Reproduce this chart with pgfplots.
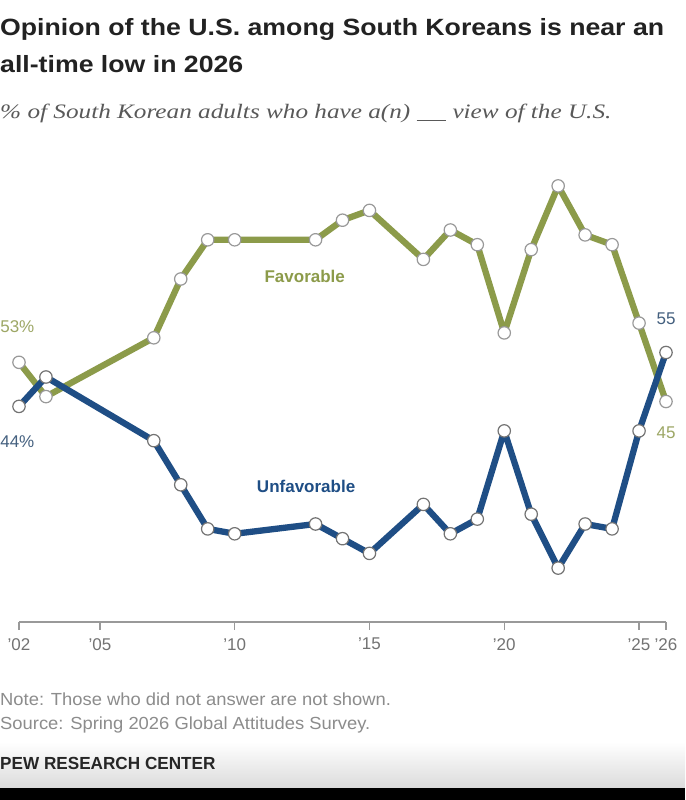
\documentclass[border=0pt]{standalone}
\usepackage{pgfplots}
\pgfplotsset{compat=1.18}
\usepackage{fontspec}
\setmainfont{Liberation Sans}
\newfontfamily\subfont{Liberation Serif}
\definecolor{fav}{HTML}{8C9B4A}
\definecolor{favtxt}{HTML}{9DA765}
\definecolor{unfav}{HTML}{1F4E85}
\definecolor{unfavtxt}{HTML}{44607F}
\definecolor{titlec}{HTML}{222222}

\begin{document}
\begin{tikzpicture}
\path[use as bounding box] (0pt,0pt) rectangle (685pt,800pt);
\fill[white] (0pt,0pt) rectangle (685pt,800pt);
\shade[top color=white, bottom color=black!14] (0pt,12pt) rectangle (685pt,58pt);
\fill[black] (0pt,0pt) rectangle (685pt,12pt);

\node[anchor=base west, inner sep=0, text=titlec] at (0pt,764pt)
  {\scalebox{1.135}[1]{\fontsize{23.5}{26}\selectfont\bfseries Opinion of the U.S. among South Koreans is near an}};
\node[anchor=base west, inner sep=0, text=titlec] at (0pt,727pt)
  {\scalebox{1.135}[1]{\fontsize{23.5}{26}\selectfont\bfseries all-time low in 2026}};
\node[anchor=base west, inner sep=0, text=black!65] at (0pt,681pt)
  {\scalebox{1.23}[1]{\subfont\itshape\fontsize{20.5}{22}\selectfont \% of South Korean adults who have a(n) \rule[-1.5pt]{24pt}{0.8pt} view of the U.S.}};

\node[anchor=base west, inner sep=0, text=black!45] at (0pt,94pt)
  {\scalebox{1.05}[1]{\fontsize{17.5}{19}\selectfont Note: Those who did not answer are not shown.}};
\node[anchor=base west, inner sep=0, text=black!45] at (0pt,70pt)
  {\scalebox{1.05}[1]{\fontsize{17.5}{19}\selectfont Source: Spring 2026 Global Attitudes Survey.}};
\node[anchor=base west, inner sep=0, text=black!85] at (0pt,30pt)
  {\scalebox{0.98}[1]{\fontsize{17.5}{19}\selectfont\bfseries PEW RESEARCH CENTER}};

\begin{axis}[
  at={(19pt,178pt)}, anchor=south west,
  scale only axis, width=647pt, height=441pt,
  xmin=2002, xmax=2026, ymin=0, ymax=90,
  axis x line=bottom, axis y line=none,
  clip=false,
  xtick={2002,2005,2010,2015,2020,2025,2026},
  xticklabels={\mbox{'02},\mbox{'05},\mbox{'10},\mbox{'15},\mbox{'20},\mbox{'25},\mbox{'26}},
  tick align=outside, major tick length=8pt,
  x axis line style={-, draw=black!40, line width=1.3pt},
  xtick style={draw=black!40, line width=1.3pt},
  xticklabel style={font=\fontsize{17}{19}\selectfont, text=black!55, inner sep=2pt, yshift=-6pt},
]
\addplot[fav, line width=6.3pt, line join=round, mark=*, mark size=6.2pt,
  mark options={fill=white, draw=black!40, line width=1.2pt}] coordinates {
  (2002,53) (2003,46) (2007,58) (2008,70) (2009,78) (2010,78) (2013,78)
  (2014,82) (2015,84) (2017,74) (2018,80) (2019,77) (2020,59) (2021,76)
  (2022,89) (2023,79) (2024,77) (2025,61) (2026,45)
};
\addplot[unfav, line width=6.3pt, line join=round, mark=*, mark size=6.2pt,
  mark options={fill=white, draw=black!55, line width=1.2pt}] coordinates {
  (2002,44) (2003,50) (2007,37) (2008,28) (2009,19) (2010,18) (2013,20)
  (2014,17) (2015,14) (2017,24) (2018,18) (2019,21) (2020,39) (2021,22)
  (2022,11) (2023,20) (2024,19) (2025,39) (2026,55)
};
\node[anchor=west, inner sep=0, text=favtxt, font=\fontsize{17}{19}\selectfont] at (axis cs:2001.3,60.2) {53\%};
\node[anchor=west, inner sep=0, text=unfavtxt, font=\fontsize{17}{19}\selectfont] at (axis cs:2001.3,36.9) {44\%};
\node[inner sep=0, text=unfavtxt, font=\fontsize{17}{19}\selectfont] at (axis cs:2026,61.8) {55};
\node[inner sep=0, text=favtxt, font=\fontsize{17}{19}\selectfont] at (axis cs:2026,38.6) {45};
\node[inner sep=0, text=fav, font=\fontsize{17}{19}\selectfont\bfseries] at (axis cs:2012.6,70.6) {Favorable};
\node[inner sep=0, text=unfav, font=\fontsize{17}{19}\selectfont\bfseries] at (axis cs:2012.65,27.6) {Unfavorable};
\end{axis}
\end{tikzpicture}
\end{document}
